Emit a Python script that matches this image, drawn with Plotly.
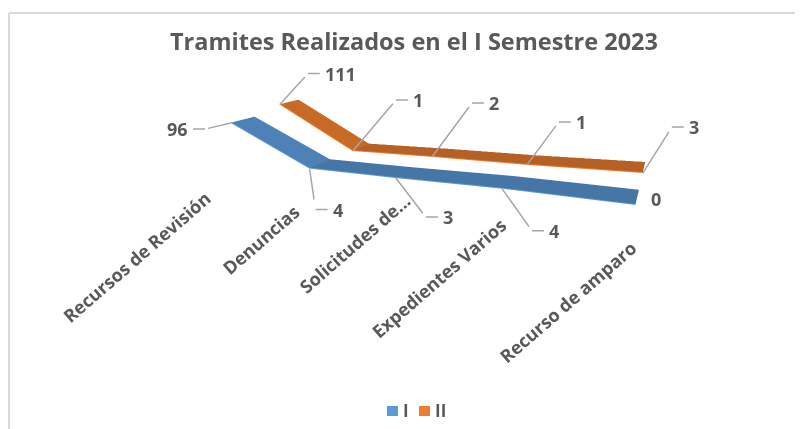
import plotly.graph_objects as go

categories = ["Recursos de Revisión", "Denuncias", "Solicitudes de…", "Expedientes Varios", "Recurso de amparo"]
serie_i = [96, 4, 3, 4, 0]
serie_ii = [111, 1, 2, 1, 3]

FONT = "Open Sans"
GRIS = "#595959"
LINEA = "#a6a6a6"
ANCHO, ALTO = 795, 421  # the page adds an 8px body margin

# elbow of each leader line and where the category label ends, in pixels from the point
codos_i = [(-26, 6), (6, 41), (30, 39), (30, 42), None]
codos_ii = [(28, -31), (43, -51), (40, -54), (32, -43), (29, -46)]
etiq_cat = [(-20, 21), (-3, 27), (23, 6), (12, 20), (8, 28)]


def px_x(x):
    return (x - 8) / ANCHO


def px_y(y):
    return 1 - (y - 8) / ALTO


def cinta(valores, y0, y1, claro, oscuro, borde):
    xs, ys, zs = [], [], []
    for i, v in enumerate(valores):
        xs += [i, i]
        ys += [y0, y1]
        zs += [v, v]
    a, b, c, colores = [], [], [], []
    for i in range(len(valores) - 1):
        k = 2 * i
        a += [k, k + 1]
        b += [k + 1, k + 3]
        c += [k + 2, k + 2]
        colores += [claro if i == 0 else oscuro] * 2
    malla = go.Mesh3d(x=xs, y=ys, z=zs, i=a, j=b, k=c, facecolor=colores, flatshading=True,
                      lighting=dict(ambient=1, diffuse=0, specular=0, fresnel=0, roughness=1),
                      hoverinfo="skip", showlegend=False)
    filo = go.Scatter3d(x=list(range(len(valores))), y=[y0] * len(valores), z=valores, mode="lines",
                        line=dict(color=borde, width=2), hoverinfo="skip", showlegend=False)
    return [malla, filo]


def anotaciones(valores, y0, codos):
    notas = []
    for i, v in enumerate(valores):
        base = dict(x=i, y=y0, z=v, font=dict(family=FONT, size=18, color=GRIS, weight="bold"))
        if codos[i] is None:
            notas.append(dict(base, text=str(v), showarrow=False, xshift=20, yshift=6))
            continue
        dx, dy = codos[i]
        # diagonal part of the leader
        notas.append(dict(x=i, y=y0, z=v, text=" ", showarrow=True, arrowhead=0, arrowwidth=1.5,
                          arrowcolor=LINEA, ax=dx, ay=dy, standoff=0))
        # horizontal part plus the number
        signo = 1 if dx >= 0 else -1
        notas.append(dict(base, text=str(v), showarrow=True, arrowhead=0, arrowwidth=1.5, arrowcolor=LINEA,
                          ax=signo * 12, ay=0, xshift=dx, yshift=-dy, standoff=0, borderpad=4,
                          xanchor="left" if signo > 0 else "right"))
    return notas


fig = go.Figure()
fig.add_traces(cinta(serie_i, 0, 0.307, "#4e82b7", "#4676a6", "#5b9bd5"))
fig.add_traces(cinta(serie_ii, 0.693, 1, "#c66a26", "#b56024", "#ed7d31"))

notas = anotaciones(serie_i, 0, codos_i) + anotaciones(serie_ii, 0.693, codos_ii)
for i, cat in enumerate(categories):
    notas.append(dict(x=i, y=0, z=0, text=cat, textangle=-41, showarrow=False, xanchor="right", yanchor="top",
                      xshift=etiq_cat[i][0], yshift=-etiq_cat[i][1],
                      font=dict(family=FONT, size=18, color=GRIS, weight="bold")))

# chart frame and the legend swatches
marcas = [
    dict(type="line", xref="paper", yref="paper", x0=px_x(9), x1=px_x(9), y0=0, y1=px_y(13),
         line=dict(color="#d9d9d9", width=2)),
    dict(type="line", xref="paper", yref="paper", x0=px_x(9), x1=1, y0=px_y(13), y1=px_y(13),
         line=dict(color="#d9d9d9", width=2)),
    dict(type="rect", xref="paper", yref="paper", x0=px_x(387), x1=px_x(398), y0=px_y(416), y1=px_y(406),
         fillcolor="#5b9bd5", line_width=0),
    dict(type="rect", xref="paper", yref="paper", x0=px_x(419), x1=px_x(430), y0=px_y(416), y1=px_y(406),
         fillcolor="#ed7d31", line_width=0),
]
leyenda = [
    dict(xref="paper", yref="paper", x=px_x(x), y=px_y(410), text=t, showarrow=False,
         xanchor="center", yanchor="middle",
         font=dict(family=FONT, size=17, color=GRIS, weight="bold"))
    for x, t in [(406, "I"), (440, "II")]
]

eje = dict(visible=False, showspikes=False)
fig.update_layout(
    width=ANCHO, height=ALTO, margin=dict(l=0, r=0, t=0, b=0),
    paper_bgcolor="white",
    showlegend=False,
    title=dict(text="Tramites Realizados en el I Semestre 2023", x=px_x(414), xanchor="center",
               y=px_y(42), yanchor="middle",
               font=dict(family=FONT, size=23.5, color=GRIS, weight="bold")),
    shapes=marcas,
    annotations=leyenda,
    scene=dict(
        domain=dict(x=[0, 0.9862], y=[0.0344, 0.9822]),
        xaxis=dict(eje, range=[0, 4]),
        yaxis=dict(eje, range=[0, 1]),
        zaxis=dict(eje, range=[0, 120]),
        aspectmode="manual",
        aspectratio=dict(x=1.137, y=0.326, z=0.157),
        camera=dict(eye=dict(x=0.5998, y=-1.2113, z=0.2961),
                    center=dict(x=0.003, y=-0.158, z=-0.180),
                    up=dict(x=-0.127, y=0.348, z=0.929)),
        annotations=notas,
    ),
)
fig.write_html("out.html")
